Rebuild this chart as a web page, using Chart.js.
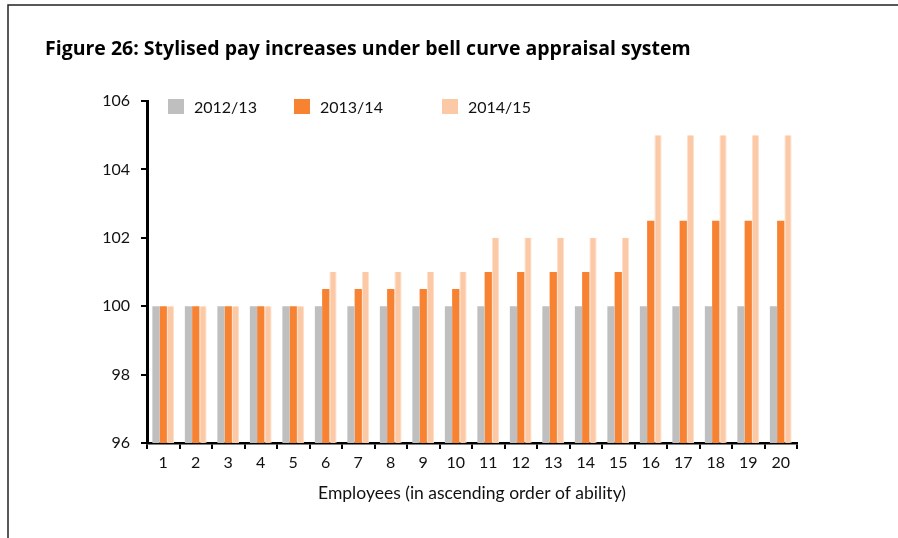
<!DOCTYPE html>
<html>
<head>
<meta charset="utf-8">
<script src="https://cdn.jsdelivr.net/npm/chart.js@4/dist/chart.umd.min.js"></script>
<style>
  html, body { margin: 0; padding: 0; background: #fff; }
  canvas { display: block; }
</style>
</head>
<body>
<canvas id="payChart" width="898" height="538"></canvas>
<script>
// Chart data
const employees = ['1', '2', '3', '4', '5', '6', '7', '8', '9', '10',
                   '11', '12', '13', '14', '15', '16', '17', '18', '19', '20'];
const pay201213 = [100, 100, 100, 100, 100, 100, 100, 100, 100, 100,
                   100, 100, 100, 100, 100, 100, 100, 100, 100, 100];
const pay201314 = [100, 100, 100, 100, 100, 100.5, 100.5, 100.5, 100.5, 100.5,
                   101, 101, 101, 101, 101, 102.5, 102.5, 102.5, 102.5, 102.5];
const pay201415 = [100, 100, 100, 100, 100, 101, 101, 101, 101, 101,
                   102, 102, 102, 102, 102, 105, 105, 105, 105, 105];
const yTicks = [96, 98, 100, 102, 104, 106];

const FONT = 'Lato, "Noto Sans", sans-serif';

// Frame, title and legend drawn on the canvas
const decorPlugin = {
    id: 'decor',
    beforeDraw(chart) {
        const ctx = chart.ctx;
        ctx.save();
        ctx.fillStyle = '#fff';
        ctx.fillRect(0, 0, chart.width, chart.height);
        ctx.strokeStyle = '#222';
        ctx.lineWidth = 1.5;
        ctx.beginPath();
        ctx.moveTo(8, chart.height);
        ctx.lineTo(8, 5);
        ctx.lineTo(chart.width, 5);
        ctx.stroke();

        ctx.fillStyle = '#000';
        ctx.font = 'bold 19.5px "Open Sans", sans-serif';
        ctx.textBaseline = 'alphabetic';
        ctx.textAlign = 'left';
        ctx.fillText('Figure 26: Stylised pay increases under bell curve appraisal system', 45, 55);
        ctx.restore();
    },
    afterDraw(chart) {
        const ctx = chart.ctx;
        const xs = [168, 294, 442];
        ctx.save();
        ctx.font = '16px ' + FONT;
        ctx.textBaseline = 'middle';
        ctx.textAlign = 'left';
        chart.data.datasets.forEach(function (ds, i) {
            ctx.fillStyle = ds.backgroundColor;
            ctx.fillRect(xs[i], 99, 16, 15);
            ctx.fillStyle = '#111';
            ctx.fillText(ds.label, xs[i] + 26, 108);
        });
        ctx.restore();
    }
};

document.addEventListener('DOMContentLoaded', function () {
    const ctx = document.getElementById('payChart').getContext('2d');

    new Chart(ctx, {
        type: 'bar',
        data: {
            labels: employees,
            datasets: [{
                label: '2012/13',
                data: pay201213,
                backgroundColor: '#BFBFBF',
                borderWidth: 0
            }, {
                label: '2013/14',
                data: pay201314,
                backgroundColor: '#F68232',
                borderWidth: 0
            }, {
                label: '2014/15',
                data: pay201415,
                backgroundColor: '#FCC9A6',
                borderColor: '#FDE0CB',
                borderWidth: { left: 1, right: 1 }
            }]
        },
        options: {
            responsive: false,
            animation: false,
            devicePixelRatio: 1,
            layout: { padding: { left: 0, top: 101, right: 101, bottom: 0 } },
            plugins: {
                legend: { display: false },
                title: { display: false },
                tooltip: { enabled: false }
            },
            datasets: {
                bar: { barPercentage: 1, categoryPercentage: 0.67 }
            },
            scales: {
                x: {
                    afterFit(scale) { scale.height = 95; },
                    grid: {
                        offset: true,
                        drawOnChartArea: false,
                        drawTicks: true,
                        tickLength: 6,
                        color: '#000',
                        lineWidth: 2
                    },
                    border: { color: '#000', width: 2.5 },
                    ticks: {
                        color: '#111',
                        font: { family: FONT, size: 16 },
                        padding: 4,
                        maxRotation: 0,
                        autoSkip: false
                    },
                    title: {
                        display: true,
                        text: 'Employees (in ascending order of ability)',
                        color: '#111',
                        font: { family: FONT, size: 17.5 },
                        padding: { top: 0, bottom: 34 }
                    }
                },
                y: {
                    min: yTicks[0],
                    max: yTicks[yTicks.length - 1],
                    afterFit(scale) { scale.width = 147; },
                    afterBuildTicks(scale) {
                        scale.ticks = yTicks.map(function (v) { return { value: v }; });
                    },
                    grid: {
                        drawOnChartArea: false,
                        drawTicks: true,
                        tickLength: 6,
                        color: '#000',
                        lineWidth: 2
                    },
                    border: { color: '#000', width: 3 },
                    ticks: {
                        color: '#111',
                        font: { family: FONT, size: 16 },
                        padding: 11
                    }
                }
            }
        },
        plugins: [decorPlugin]
    });
});
</script>
</body>
</html>
